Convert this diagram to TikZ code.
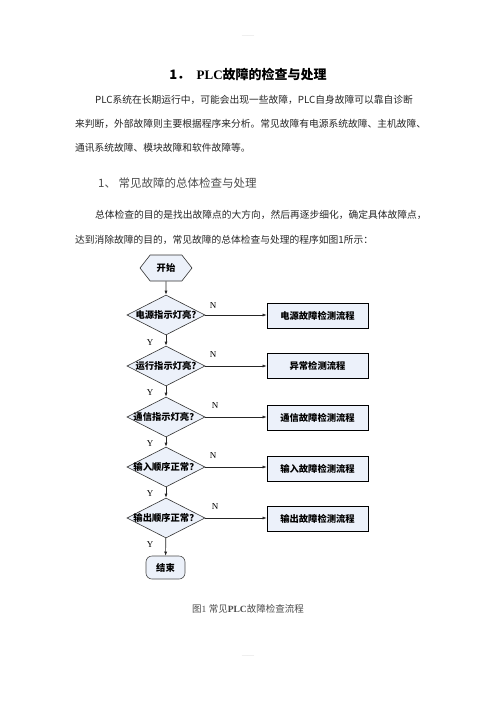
\documentclass[tikz,border=0pt]{standalone}
\usepackage{fontspec}
\setmainfont{Liberation Serif}
\newfontfamily\cjk{Noto Sans CJK SC}
\usepackage{xcolor}
\usetikzlibrary{shapes.geometric,shapes.symbols,arrows.meta}
\definecolor{boxfill}{RGB}{236,241,250}
\def\width{496}
\def\hauteur{702}

\begin{document}
\begin{tikzpicture}[x=1pt, y=-1pt,
	body/.style={anchor=west, inner sep=0pt, text=black!85, font=\cjk\fontsize{9.75}{12}\selectfont},
	decision/.style={diamond, draw=black!80, fill=boxfill, line width=0.6pt, minimum width=78pt, minimum height=40pt, inner sep=0pt},
	dtext/.style={inner sep=0pt, font=\cjk\bfseries\fontsize{9.3}{11}\selectfont},
	process/.style={rectangle, draw=black, fill=boxfill, line width=0.8pt, minimum width=101pt, minimum height=25pt, font=\cjk\bfseries\fontsize{9.3}{11}\selectfont},
	startbox/.style={signal, signal to=west and east, signal pointer angle=104, draw=black!80, fill=boxfill, line width=0.6pt, minimum width=52pt, minimum height=26pt, inner sep=0pt, font=\cjk\bfseries\fontsize{9.3}{11}\selectfont},
	stopbox/.style={rectangle, rounded corners=6pt, draw=black!70, fill=boxfill, line width=0.6pt, minimum width=39pt, minimum height=23pt, font=\cjk\bfseries\fontsize{9.3}{11}\selectfont},
	flow/.style={-{Latex[length=4pt,width=3pt]}, line width=0.6pt, black!85},
	yn/.style={inner sep=0pt, font=\fontsize{9}{10}\selectfont}]
	\useasboundingbox[fill=white] (0,0) rectangle (\width,\hauteur);
	%\draw[step=50, black!10] (0,0) grid (\width,\hauteur);
	\node[text=black!20, font=\fontsize{6}{6}\selectfont] (hd) at (248,37) {——};
	\node[text=black!20, font=\fontsize{6}{6}\selectfont] (ft) at (248,657) {——};
	% text above the chart
	\node[font=\bfseries\fontsize{13}{15}\selectfont] (title) at (248,75) {\cjk 1．\rmfamily\ \ PLC\cjk 故障的检查与处理};
	\node[body] (p1) at (95,100) {PLC系统在长期运行中，可能会出现一些故障，PLC自身故障可以靠自诊断};
	\node[body] (p2) at (75,124) {来判断，外部故障则主要根据程序来分析。常见故障有电源系统故障、主机故障、};
	\node[body] (p3) at (75,148) {通讯系统故障、模块故障和软件故障等。};
	\node[anchor=west, inner sep=0pt, text=black!70, font=\cjk\fontsize{11.5}{13}\selectfont] (sec) at (98,183) {1、\ 常见故障的总体检查与处理};
	\node[body] (p4) at (95,215) {总体检查的目的是找出故障点的大方向，然后再逐步细化，确定具体故障点，};
	\node[body] (p5) at (75,240) {达到消除故障的目的，常见故障的总体检查与处理的程序如图1所示：};
	% the chart
	\node[startbox] (start) at (166,268) {开始};
	\node[decision] (q1) at (166,315) {};
	\node[dtext] (q1t) at (q1) {电源指示灯亮?};
	\node[decision] (q2) at (166,366) {};
	\node[dtext] (q2t) at (q2) {运行指示灯亮?};
	\node[decision] (q3) at (166,417) {};
	\node[dtext] (q3t) at (q3) {通信指示灯亮？};
	\node[decision] (q4) at (166,467) {};
	\node[dtext] (q4t) at (q4) {输入顺序正常？};
	\node[decision] (q5) at (166,518) {};
	\node[dtext] (q5t) at (q5) {输出顺序正常？};
	\node[stopbox] (stop) at (165.5,567.5) {结束};
	\node[process] (b1) at (317.5,315.5) {电源故障检测流程};
	\node[process] (b2) at (317.5,366) {异常检测流程};
	\node[process] (b3) at (317.5,418) {通信故障检测流程};
	\node[process] (b4) at (317.5,468.5) {输入故障检测流程};
	\node[process] (b5) at (317.5,519) {输出故障检测流程};
	\draw[flow] (start) -- (q1);
	\draw[flow] (q1) -- (q2);
	\draw[flow] (q2) -- (q3);
	\draw[flow] (q3) -- (q4);
	\draw[flow] (q4) -- (q5);
	\draw[flow] (q5) -- (stop);
	\draw[flow] (q1.east) -- (b1.west |- q1.east);
	\draw[flow] (q2.east) -- (b2.west |- q2.east);
	\draw[flow] (q3.east) -- (b3.west |- q3.east);
	\draw[flow] (q4.east) -- (b4.west |- q4.east);
	\draw[flow] (q5.east) -- (b5.west |- q5.east);
	\node[yn] (n1) at (213,306) {N};
	\node[yn] (n2) at (213,355) {N};
	\node[yn] (n3) at (215,406) {N};
	\node[yn] (n4) at (213,456) {N};
	\node[yn] (n5) at (215,507) {N};
	\node[yn] (y1) at (150,343) {Y};
	\node[yn] (y2) at (150,393) {Y};
	\node[yn] (y3) at (150,444) {Y};
	\node[yn] (y4) at (150,494) {Y};
	\node[yn] (y5) at (150,545) {Y};
	\node[text=black!70, font=\fontsize{9.5}{11}\selectfont] (cap) at (248,609) {\cjk 图\rmfamily 1 \cjk 常见\rmfamily\bfseries PLC\mdseries\cjk 故障检查流程};
\end{tikzpicture}
\end{document}
